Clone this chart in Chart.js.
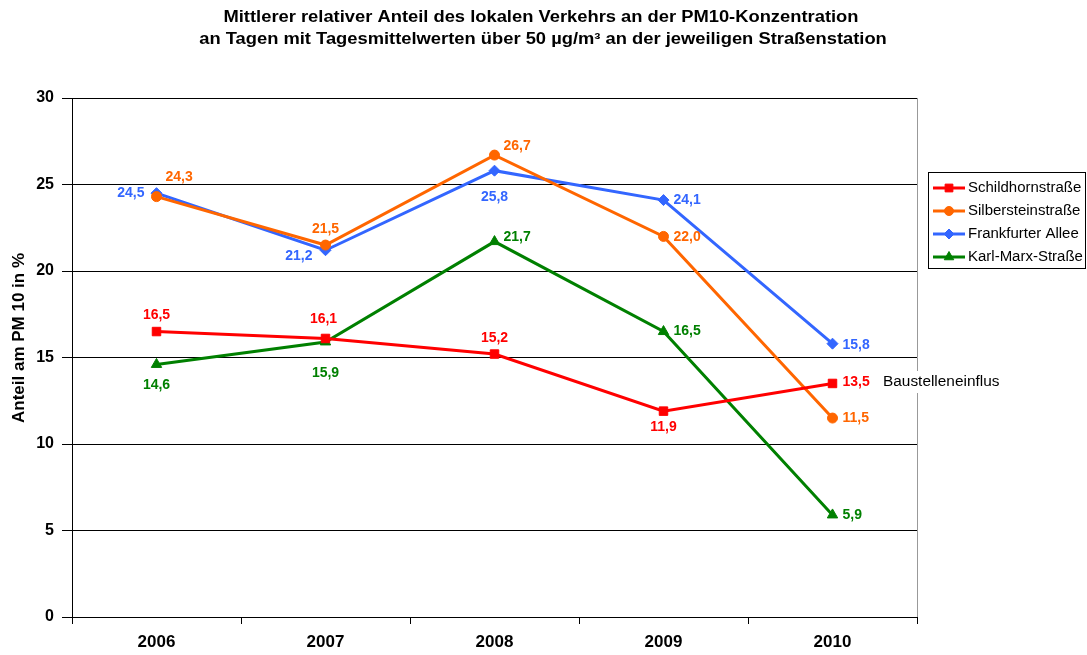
<!DOCTYPE html>
<html>
<head>
<meta charset="utf-8">
<script src="https://cdn.jsdelivr.net/npm/chart.js@4"></script>
<style>
  html, body { margin: 0; padding: 0; background: #fff; }
  #wrap { width: 1087px; height: 655px; }
</style>
</head>
<body>
<div id="wrap"><canvas id="chart" width="1087" height="655"></canvas></div>
<script>
// Daten
const years = ['2006', '2007', '2008', '2009', '2010'];
const schildhorn = [16.5, 16.1, 15.2, 11.9, 13.5];
const silberstein = [24.3, 21.5, 26.7, 22.0, 11.5];
const frankfurter = [24.5, 21.2, 25.8, 24.1, 15.8];
const karlMarx = [14.6, 15.9, 21.7, 16.5, 5.9];
const seriesNames = ['Schildhornstraße', 'Silbersteinstraße', 'Frankfurter Allee', 'Karl-Marx-Straße'];
const titleLines = [
    'Mittlerer relativer Anteil des lokalen Verkehrs an der PM10-Konzentration',
    'an Tagen mit Tagesmittelwerten über 50 µg/m³ an der jeweiligen Straßenstation'
];
const yTitle = 'Anteil am PM 10 in %';
const noteText = 'Baustelleneinflus';

// Position der Beschriftungen relativ zum Punkt: [dx, dy, align]
const labelPos = [
    [[0, -16, 'center'], [-2, -19, 'center'], [0, -16, 'center'], [0, 16, 'center'], [10, -1, 'left']],
    [[9, -19, 'left'], [0, -16, 'center'], [9, -9, 'left'], [10, 1, 'left'], [10, 0, 'left']],
    [[-12, 0, 'right'], [-13, 6, 'right'], [0, 26, 'center'], [10, 0, 'left'], [10, 1, 'left']],
    [[0, 21, 'center'], [0, 31, 'center'], [9, -4, 'left'], [10, 0, 'left'], [10, 0, 'left']]
];

const FONT = 'Arial, "Liberation Sans", sans-serif';

function fmt(v) {
    return v.toFixed(1).replace('.', ',');
}

// Text mit horizontaler Streckung zeichnen
function stretchText(ctx, text, x, y, align, sx) {
    ctx.save();
    ctx.translate(x, y);
    ctx.scale(sx, 1);
    ctx.textAlign = align;
    ctx.fillText(text, 0, 0);
    ctx.restore();
}

// Titel, Beschriftungen, Legende, Rahmen
const decorPlugin = {
    id: 'decor',
    afterDraw(chart) {
        const ctx = chart.ctx;
        const area = chart.chartArea;
        ctx.save();
        ctx.textBaseline = 'middle';

        // rechter Rand
        ctx.strokeStyle = '#999';
        ctx.lineWidth = 1;
        ctx.beginPath();
        ctx.moveTo(Math.round(area.right) + 0.5, area.top);
        ctx.lineTo(Math.round(area.right) + 0.5, area.bottom);
        ctx.stroke();

        // Titel
        ctx.fillStyle = '#000';
        ctx.font = 'bold 16px ' + FONT;
        const sxTitle = 635 / ctx.measureText(titleLines[0]).width;
        stretchText(ctx, titleLines[0], 541, 18, 'center', sxTitle);
        stretchText(ctx, titleLines[1], 543, 40, 'center', sxTitle);

        // Y-Achsentitel
        ctx.save();
        ctx.font = 'bold 17px ' + FONT;
        ctx.translate(19, 338);
        ctx.rotate(-Math.PI / 2);
        ctx.textAlign = 'center';
        ctx.fillText(yTitle, 0, 0);
        ctx.restore();

        // Datenbeschriftungen
        ctx.font = 'bold 14px ' + FONT;
        chart.data.datasets.forEach((ds, i) => {
            const meta = chart.getDatasetMeta(i);
            meta.data.forEach((pt, j) => {
                const p = labelPos[i][j];
                ctx.fillStyle = ds.borderColor;
                ctx.textAlign = p[2];
                ctx.fillText(fmt(ds.data[j]), pt.x + p[0], pt.y + p[1]);
            });
        });

        // Hinweis
        ctx.font = '14px ' + FONT;
        const nw = ctx.measureText(noteText).width * 1.1;
        ctx.fillStyle = '#fff';
        ctx.fillRect(880, 371, nw + 6, 22);
        ctx.fillStyle = '#000';
        stretchText(ctx, noteText, 883, 382, 'left', 1.1);

        // Legende
        ctx.strokeStyle = '#000';
        ctx.lineWidth = 1;
        ctx.fillStyle = '#fff';
        ctx.fillRect(928.5, 172.5, 157, 96);
        ctx.strokeRect(928.5, 172.5, 157, 96);
        chart.data.datasets.forEach((ds, i) => {
            const y = 188 + i * 23;
            ctx.strokeStyle = ds.borderColor;
            ctx.lineWidth = 3;
            ctx.beginPath();
            ctx.moveTo(933, y);
            ctx.lineTo(965, y);
            ctx.stroke();
            ctx.fillStyle = ds.borderColor;
            ctx.lineWidth = 1;
            Chart.helpers.drawPoint(ctx, {
                pointStyle: ds.pointStyle,
                radius: ds.pointRadius - 0.5,
                borderWidth: 1
            }, 949, y);
            ctx.fillStyle = '#000';
            ctx.font = '14px ' + FONT;
            stretchText(ctx, ds.label, 968, y, 'left', 1.07);
        });
        ctx.restore();
    }
};

const makeSet = (label, data, color, style, radius) => ({
    label: label,
    data: data,
    borderColor: color,
    backgroundColor: color,
    pointBackgroundColor: color,
    pointBorderColor: color,
    pointBorderWidth: 1,
    pointStyle: style,
    pointRadius: radius,
    pointHoverRadius: radius,
    borderWidth: 3,
    tension: 0
});

const chart = new Chart(document.getElementById('chart'), {
    type: 'line',
    data: {
        labels: years,
        datasets: [
            makeSet(seriesNames[0], schildhorn, '#ff0000', 'rect', 6),
            makeSet(seriesNames[1], silberstein, '#ff6600', 'circle', 5),
            makeSet(seriesNames[2], frankfurter, '#3366ff', 'rectRot', 5.5),
            makeSet(seriesNames[3], karlMarx, '#008000', 'triangle', 6)
        ]
    },
    options: {
        responsive: false,
        animation: false,
        events: [],
        layout: { padding: { left: 0, right: 170, top: 98, bottom: 0 } },
        plugins: {
            legend: { display: false },
            title: { display: false },
            tooltip: { enabled: false }
        },
        scales: {
            x: {
                offset: true,
                grid: {
                    offset: true,
                    drawOnChartArea: false,
                    drawTicks: true,
                    tickLength: 7,
                    color: '#000'
                },
                border: { color: '#000', width: 1 },
                ticks: {
                    color: '#000',
                    font: { family: FONT, size: 17, weight: 'bold' },
                    padding: 8,
                    maxRotation: 0
                },
                afterFit(scale) { scale.height = 38; }
            },
            y: {
                min: 0,
                max: 30,
                ticks: {
                    stepSize: 5,
                    color: '#000',
                    font: { family: FONT, size: 16, weight: 'bold' },
                    padding: 8
                },
                grid: {
                    color: '#000',
                    lineWidth: 1,
                    tickLength: 10
                },
                border: { color: '#000', width: 1 },
                afterFit(scale) { scale.width = 72; }
            }
        }
    },
    plugins: [decorPlugin]
});
</script>
</body>
</html>
